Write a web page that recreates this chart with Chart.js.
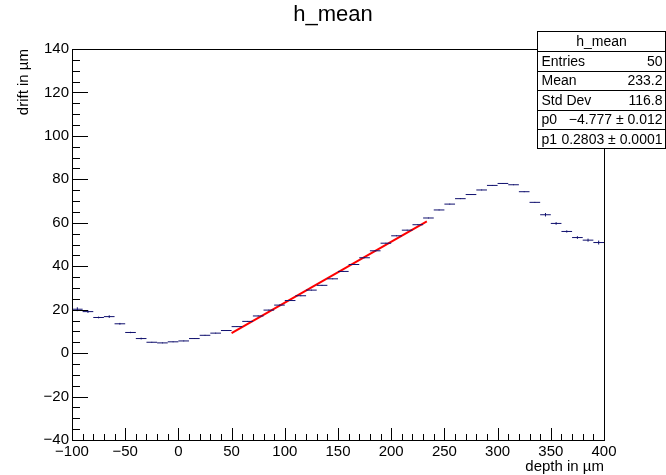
<!DOCTYPE html>
<html>
<head>
<meta charset="utf-8">
<script src="https://cdn.jsdelivr.net/npm/chart.js@4"></script>
<style>
  html, body { margin: 0; padding: 0; background: #fff; }
  #c { display: block; }
</style>
</head>
<body>
<canvas id="c" width="666" height="475"></canvas>
<script>
// histogram h_mean : 50 bins from -100 to 400
var binLow = -100
var binWidth = 10
var meanValues = [
  20.2, 19.1, 16.4, 16.8, 13.5, 9.5, 6.7, 5.0, 4.7, 5.2,
  5.6, 6.7, 8.2, 9.2, 10.4, 12.2, 14.6, 17.1, 19.8, 22.1,
  24.2, 26.4, 29.0, 31.2, 34.2, 37.6, 40.8, 43.9, 47.1, 50.6,
  54.0, 56.6, 59.1, 62.2, 65.9, 68.6, 71.1, 73.0, 75.1, 77.2,
  78.1, 77.5, 74.3, 69.4, 63.7, 59.7, 56.0, 53.2, 52.0, 50.9
]
var meanErrors = [
  0.9, 0.6, 0.4, 0.6, 0.4, 0.3, 0.4, 0.2, 0.2, 0.2,
  0.2, 0.2, 0.2, 0.2, 0.2, 0.2, 0.2, 0.2, 0.2, 0.2,
  0.2, 0.2, 0.2, 0.2, 0.2, 0.2, 0.2, 0.2, 0.2, 0.2,
  0.2, 0.2, 0.2, 0.2, 0.2, 0.2, 0.2, 0.2, 0.2, 0.2,
  0.2, 0.2, 0.2, 0.2, 0.8, 0.6, 0.5, 0.6, 0.7, 0.9
]
// linear fit pol1
var fitRange = [50, 233.5]
var p0 = -4.777
var p1 = 0.2803

var statLabels = ['Entries', 'Mean', 'Std Dev', 'p0', 'p1']
var statValues = ['50', '233.2', '116.8', '\u22124.777 \u00b1 0.012', '0.2803 \u00b1 0.0001']

var FONT = '"Liberation Sans", Arial, Helvetica, sans-serif'
var navy = '#10106e'

// build steps and error bars
var steps = []
var errs = []
for (var i = 0; i < meanValues.length; i++) {
  var lo = binLow + i * binWidth
  var hi = lo + binWidth
  var c = lo + binWidth / 2
  steps.push({x: lo, y: meanValues[i]}, {x: hi, y: meanValues[i]}, {x: hi, y: null})
  errs.push({x: c, y: meanValues[i] - meanErrors[i]}, {x: c, y: meanValues[i] + meanErrors[i]}, {x: c, y: null})
}
var fitPts = fitRange.map(function (x) { return {x: x, y: p0 + p1 * x} })

function minus(v) { return String(v).replace('-', '\u2212') }

var rootFrame = {
  id: 'rootFrame',
  afterDraw: function (chart) {
    var ctx = chart.ctx
    var a = chart.chartArea
    var xs = chart.scales.x
    var ys = chart.scales.y
    ctx.save()
    ctx.strokeStyle = '#000'
    ctx.lineWidth = 1
    ctx.strokeRect(Math.round(a.left) + 0.5, Math.round(a.top) + 0.5, Math.round(a.right - a.left), Math.round(a.bottom - a.top))
    ctx.beginPath()
    // x ticks (inside)
    for (var v = -100; v <= 400; v += 10) {
      var px = Math.round(xs.getPixelForValue(v)) + 0.5
      var len = (v % 50 === 0) ? 12 : 6
      ctx.moveTo(px, a.bottom)
      ctx.lineTo(px, a.bottom - len)
    }
    // y ticks (inside)
    for (var w = -40; w <= 140; w += 5) {
      var py = Math.round(ys.getPixelForValue(w)) + 0.5
      var l2 = (w % 20 === 0) ? 16 : 8
      ctx.moveTo(a.left, py)
      ctx.lineTo(a.left + l2, py)
    }
    ctx.stroke()

    // titles
    ctx.fillStyle = '#000'
    ctx.font = '22px ' + FONT
    ctx.textAlign = 'center'
    ctx.textBaseline = 'middle'
    ctx.fillText('h_mean', 333, 15)

    ctx.font = '15px ' + FONT
    ctx.textAlign = 'right'
    ctx.textBaseline = 'alphabetic'
    ctx.fillText('depth in \u00b5m', a.right, 471)

    ctx.save()
    ctx.translate(28, a.top)
    ctx.rotate(-Math.PI / 2)
    ctx.textAlign = 'right'
    ctx.fillText('drift in \u00b5m', 0, 0)
    ctx.restore()

    // stats box
    var bx = 537.5, by = 31.5, bw = 128, rh = 19.5
    var bh = rh * 6
    ctx.fillStyle = '#fff'
    ctx.fillRect(bx, by, bw, bh)
    ctx.strokeRect(bx, by, bw, bh)
    ctx.beginPath()
    for (var r = 1; r < 6; r++) {
      var ly = Math.round(by + r * rh) + 0.5
      ctx.moveTo(bx, ly)
      ctx.lineTo(bx + bw, ly)
    }
    ctx.stroke()
    ctx.fillStyle = '#000'
    ctx.font = '14px ' + FONT
    ctx.textBaseline = 'middle'
    ctx.textAlign = 'center'
    ctx.fillText('h_mean', bx + bw / 2, by + rh / 2 + 1)
    for (var k = 0; k < statLabels.length; k++) {
      var cy = by + rh * (k + 1) + rh / 2 + 1
      ctx.textAlign = 'left'
      ctx.fillText(statLabels[k], bx + 4, cy)
      ctx.textAlign = 'right'
      ctx.fillText(statValues[k], bx + bw - 3, cy)
    }
    ctx.restore()
  }
}

var ctx = document.getElementById('c').getContext('2d')
var chart = new Chart(ctx, {
  type: 'line',
  data: {
    datasets: [
      {label: 'h_mean', data: steps, borderColor: navy, borderWidth: 1, pointRadius: 0, spanGaps: false, tension: 0},
      {label: 'errors', data: errs, borderColor: navy, borderWidth: 1, pointRadius: 0, spanGaps: false, tension: 0},
      {label: 'fit', data: fitPts, borderColor: '#ff0000', borderWidth: 2, pointRadius: 0, tension: 0}
    ]
  },
  options: {
    responsive: false,
    animation: false,
    layout: {padding: {top: 49, right: 62, left: 0, bottom: 0}},
    plugins: {legend: {display: false}, tooltip: {enabled: false}, title: {display: false}},
    scales: {
      x: {
        type: 'linear', min: -100, max: 400,
        afterFit: function (s) { s.height = 35 },
        grid: {display: false, drawTicks: false},
        border: {display: false},
        ticks: {
          stepSize: 50, autoSkip: false, maxRotation: 0, padding: 3,
          color: '#000', font: {family: FONT, size: 15},
          callback: function (v) { return minus(v) }
        }
      },
      y: {
        type: 'linear', min: -40, max: 140,
        afterFit: function (s) { s.width = 72 },
        grid: {display: false, drawTicks: false},
        border: {display: false},
        ticks: {
          stepSize: 20, autoSkip: false, padding: 3,
          color: '#000', font: {family: FONT, size: 15},
          callback: function (v) { return minus(v) }
        }
      }
    }
  },
  plugins: [rootFrame]
})
</script>
</body>
</html>
